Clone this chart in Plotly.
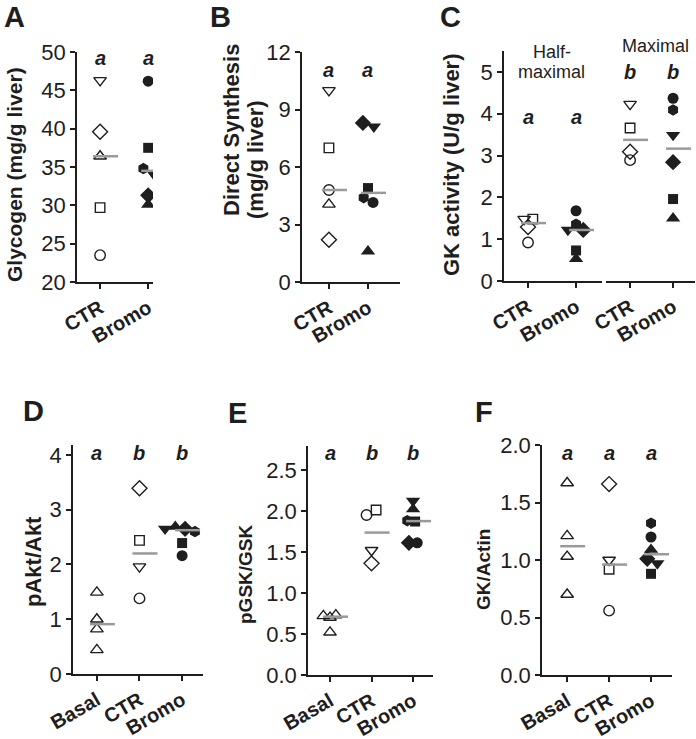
import numpy as np
import plotly.graph_objects as go

W, H = 696, 739

# ---------------- DATA ----------------
CATS_2 = ["CTR", "Bromo"]
CATS_3 = ["Basal", "CTR", "Bromo"]

# Panel A - Glycogen (mg/g liver)
A_CTR = [46.3, 39.6, 36.4, 29.7, 23.5]
A_CTR_SYM = ["triangle-down-open", "diamond-open", "triangle-up-open", "square-open", "circle-open"]
A_BROMO = [46.2, 37.5, 34.8, 34.2, 31.3, 30.1]
A_BROMO_SYM = ["circle", "square", "hexagon", "triangle-down", "diamond", "triangle-up"]

# Panel B - Direct Synthesis (mg/g liver)
B_CTR = [10.0, 7.0, 4.8, 4.05, 2.2]
B_CTR_SYM = ["triangle-down-open", "square-open", "circle-open", "triangle-up-open", "diamond-open"]
B_BROMO = [8.3, 8.1, 4.9, 4.4, 4.15, 1.6]
B_BROMO_SYM = ["diamond", "triangle-down", "square", "hexagon", "circle", "triangle-up"]

# Panel C - GK activity (U/g liver), half-maximal and maximal
C_HALF_CTR = [1.48, 1.48, 1.29, 0.92]
C_HALF_CTR_SYM = ["triangle-down-open", "square-open", "diamond-open", "circle-open"]
C_HALF_BROMO = [1.68, 1.36, 1.22, 1.22, 0.73, 0.53]
C_HALF_BROMO_SYM = ["circle", "hexagon", "triangle-down", "diamond", "square", "triangle-up"]
C_MAX_CTR = [4.23, 3.66, 3.09, 2.89]
C_MAX_CTR_SYM = ["triangle-down-open", "square-open", "diamond-open", "circle-open"]
C_MAX_BROMO = [4.37, 4.09, 3.49, 2.84, 1.96, 1.50]
C_MAX_BROMO_SYM = ["circle", "hexagon", "triangle-down", "diamond", "square", "triangle-up"]

# Panel D - pAkt/Akt
D_BASAL = [1.49, 1.0, 0.82, 0.44]
D_BASAL_SYM = ["triangle-up-open"] * 4
D_CTR = [3.39, 2.44, 1.96, 1.38]
D_CTR_SYM = ["diamond-open", "square-open", "triangle-down-open", "circle-open"]
D_BROMO = [2.65, 2.69, 2.65, 2.6, 2.39, 2.16]
D_BROMO_SYM = ["triangle-down", "triangle-up", "diamond", "hexagon", "square", "circle"]

# Panel E - pGSK/GSK
E_BASAL = [0.72, 0.70, 0.73, 0.52]
E_BASAL_SYM = ["triangle-up-open"] * 4
E_CTR = [1.95, 2.01, 1.52, 1.36]
E_CTR_SYM = ["circle-open", "square-open", "triangle-down-open", "diamond-open"]
E_BROMO = [2.12, 2.02, 1.88, 1.87, 1.61, 1.61]
E_BROMO_SYM = ["triangle-down", "triangle-up", "hexagon", "square", "diamond", "circle"]

# Panel F - GK/Actin
F_BASAL = [1.67, 1.21, 1.03, 0.70]
F_BASAL_SYM = ["triangle-up-open"] * 4
F_CTR = [1.66, 1.0, 0.92, 0.56]
F_CTR_SYM = ["diamond-open", "triangle-down-open", "square-open", "circle-open"]
F_BROMO = [1.32, 1.2, 1.09, 1.01, 0.97, 0.88]
F_BROMO_SYM = ["hexagon", "circle", "triangle-up", "diamond", "triangle-down", "square"]

# significance letters
A_SIG = ["a", "a"]
B_SIG = ["a", "a"]
C_SIG = ["a", "a", "b", "b"]
D_SIG = ["a", "b", "b"]
E_SIG = ["a", "b", "b"]
F_SIG = ["a", "a", "a"]

# ---------------- LAYOUT / STYLE (positions in px) ----------------
# horizontal jitter of overlapping points (category units)
A_BROMO_JIT = [0, 0, -0.1, 0.1, 0, 0]
B_BROMO_JIT = [-0.13, 0.15, 0, -0.11, 0.13, 0]
C_HALF_CTR_JIT = [-0.08, 0.1, 0, 0]
C_HALF_BROMO_JIT = [0, 0, -0.17, 0.15, 0, 0]
D_BROMO_JIT = [-0.4, -0.16, 0.07, 0.3, 0, 0]
E_BASAL_JIT = [-0.16, 0, 0.14, 0]
E_CTR_JIT = [-0.12, 0.11, 0, 0]
E_BROMO_JIT = [0, 0, -0.14, 0.05, -0.1, 0.1]
F_BROMO_JIT = [0, 0, 0, -0.09, 0.15, 0]

INK = "#1e1e1e"
MED_COLOR = "#9a9a9a"
FONT = "Liberation Sans, Arial, sans-serif"

SIZES_OPEN = {"triangle": 11, "circle": 10.5, "square": 9.5, "diamond": 11.5}
SIZES_FILL = {"triangle": 12.5, "circle": 11, "square": 10, "diamond": 12.5, "hexagon": 11.5}


def msize(sym):
    table = SIZES_OPEN if sym.endswith("-open") else SIZES_FILL
    for k, v in table.items():
        if sym.startswith(k):
            return v
    return 10


fig = go.Figure()
annotations = []


def xd(px):
    return px / W


def yd(px):
    return 1 - px / H


def setup_axes(n, xpx, ypx, xr, yr, ticktext, dtick, show_y=True, tickformat=None):
    sx = "" if n == 1 else str(n)
    xa = dict(
        domain=[xd(xpx[0]), xd(xpx[1])], range=xr, anchor="y" + sx, automargin=False,
        tickmode="array",
        tickvals=list(range(len(ticktext))), ticktext=["<b>%s</b>" % t for t in ticktext],
        tickangle=-30, showline=True, linecolor=INK, linewidth=1.5,
        ticks="outside", ticklen=5, tickwidth=1.5, tickcolor=INK,
        tickfont=dict(family=FONT, size=20, color=INK),
        showgrid=False, zeroline=False, fixedrange=True,
    )
    ya = dict(
        domain=[yd(ypx[1]), yd(ypx[0])], range=yr, anchor="x" + sx, automargin=False,
        showgrid=False, zeroline=False, fixedrange=True,
    )
    if show_y:
        ya.update(showline=True, linecolor=INK, linewidth=1.5, ticks="outside",
                  ticklen=5, tickwidth=1.5, tickcolor=INK, dtick=dtick, tick0=0,
                  tickmode="linear",
                  tickfont=dict(family=FONT, size=22, color=INK))
        if tickformat:
            ya["tickformat"] = tickformat
    else:
        ya.update(showline=False, ticks="", showticklabels=False)
    fig.layout["xaxis" + sx] = xa
    fig.layout["yaxis" + sx] = ya
    return sx, (xpx[1] - xpx[0]) / (xr[1] - xr[0])


def add_group(sx, cat, values, symbols, jitter, ppu):
    jit = jitter if jitter is not None else [0] * len(values)
    for v, s, j in zip(values, symbols, jit):
        filled = not s.endswith("-open")
        fig.add_trace(go.Scatter(
            x=[cat + j], y=[v], mode="markers", xaxis="x" + sx, yaxis="y" + sx,
            showlegend=False, hoverinfo="skip",
            marker=dict(symbol=s, size=msize(s), color=INK,
                        line=dict(color=INK, width=0 if filled else 1.4)),
        ))
    med = float(np.median(values))
    lo, hi = -7 / ppu, 18 / ppu
    fig.add_trace(go.Scatter(
        x=[cat + lo, cat + hi], y=[med, med], mode="lines", xaxis="x" + sx, yaxis="y" + sx,
        showlegend=False, hoverinfo="skip", line=dict(color=MED_COLOR, width=2.5),
    ))


def add_sig(sx, cats, letters, y):
    for c, l in zip(cats, letters):
        annotations.append(dict(
            x=c, y=y, xref="x" + sx, yref="y" + sx, text="<b><i>%s</i></b>" % l,
            showarrow=False, font=dict(family=FONT, size=20, color=INK),
        ))


# Panel A
sx, ppu = setup_axes(1, (77, 153), (52, 282), [-0.48, 1.1], [20, 50], CATS_2, 5)
add_group(sx, 0, A_CTR, A_CTR_SYM, None, ppu)
add_group(sx, 1, A_BROMO, A_BROMO_SYM, A_BROMO_JIT, ppu)
add_sig(sx, [0, 1], A_SIG, 49.2)

# Panel B
sx, ppu = setup_axes(2, (302, 400), (52, 282), [-0.69, 1.82], [0, 12], CATS_2, 3)
add_group(sx, 0, B_CTR, B_CTR_SYM, None, ppu)
add_group(sx, 1, B_BROMO, B_BROMO_SYM, B_BROMO_JIT, ppu)
add_sig(sx, [0, 1], B_SIG, 11.06)

# Panel C (two parts)
sx, ppu = setup_axes(3, (504, 602), (51, 281), [-0.5, 1.54], [0, 5.5], CATS_2, 1)
add_group(sx, 0, C_HALF_CTR, C_HALF_CTR_SYM, C_HALF_CTR_JIT, ppu)
add_group(sx, 1, C_HALF_BROMO, C_HALF_BROMO_SYM, C_HALF_BROMO_JIT, ppu)
add_sig(sx, [0, 1], C_SIG[:2], 3.92)
sx, ppu = setup_axes(4, (606, 695), (51, 281), [-0.56, 1.51], [0, 5.5], CATS_2, 1, show_y=False)
add_group(sx, 0, C_MAX_CTR, C_MAX_CTR_SYM, None, ppu)
add_group(sx, 1, C_MAX_BROMO, C_MAX_BROMO_SYM, None, ppu)
add_sig(sx, [0, 1], C_SIG[2:], 5.0)

# Panel D
sx, ppu = setup_axes(5, (73, 203), (445, 674), [-0.56, 2.49], [0, 4.18], CATS_3, 1)
add_group(sx, 0, D_BASAL, D_BASAL_SYM, None, ppu)
add_group(sx, 1, D_CTR, D_CTR_SYM, None, ppu)
add_group(sx, 2, D_BROMO, D_BROMO_SYM, D_BROMO_JIT, ppu)
add_sig(sx, [0, 1, 2], D_SIG, 4.04)

# Panel E
sx, ppu = setup_axes(6, (308, 433), (446, 675), [-0.53, 2.48], [0, 2.79], CATS_3, 0.5, tickformat=".1f")
add_group(sx, 0, E_BASAL, E_BASAL_SYM, E_BASAL_JIT, ppu)
add_group(sx, 1, E_CTR, E_CTR_SYM, E_CTR_JIT, ppu)
add_group(sx, 2, E_BROMO, E_BROMO_SYM, E_BROMO_JIT, ppu)
add_sig(sx, [0, 1, 2], E_SIG, 2.71)

# Panel F
sx, ppu = setup_axes(7, (542, 672), (445, 675), [-0.6, 2.5], [0, 2.0], CATS_3, 0.5, tickformat=".1f")
add_group(sx, 0, F_BASAL, F_BASAL_SYM, None, ppu)
add_group(sx, 1, F_CTR, F_CTR_SYM, None, ppu)
add_group(sx, 2, F_BROMO, F_BROMO_SYM, F_BROMO_JIT, ppu)
add_sig(sx, [0, 1, 2], F_SIG, 1.93)


def paper_text(text, x, y, size, bold=False, angle=0, yanchor="middle"):
    annotations.append(dict(
        x=xd(x), y=yd(y), xref="paper", yref="paper", xanchor="center", yanchor=yanchor,
        text=("<b>%s</b>" % text) if bold else text, textangle=angle, showarrow=False,
        font=dict(family=FONT, size=size, color=INK), borderpad=0,
    ))


# panel letters
for lab, x in [("A", 14), ("B", 220), ("C", 450)]:
    paper_text(lab, x, 0, 29, bold=True, yanchor="top")
for lab, x, y in [("D", 33, 411), ("E", 237, 413), ("F", 484, 412)]:
    paper_text(lab, x, y, 29, bold=True)

# y-axis titles
paper_text("Glycogen (mg/g liver)", 14, 175, 21, bold=True, angle=-90)
paper_text("Direct Synthesis", 231, 130, 22, bold=True, angle=-90)
paper_text("(mg/g liver)", 256, 160, 22, bold=True, angle=-90)
paper_text("GK activity (U/g liver)", 451, 165, 22, bold=True, angle=-90)
paper_text("pAkt/Akt", 33, 562, 22, bold=True, angle=-90)
paper_text("pGSK/GSK", 245, 574, 19, bold=True, angle=-90)
paper_text("GK/Actin", 483, 570, 19, bold=True, angle=-90)

# panel C group headers
paper_text("Half-", 552, 52, 18)
paper_text("maximal", 551, 72, 18)
paper_text("Maximal", 655, 46, 18)

fig.update_layout(
    template="none",
    width=W, height=H, margin=dict(l=0, r=0, t=0, b=0, autoexpand=False),
    paper_bgcolor="white", plot_bgcolor="white",
    annotations=annotations, showlegend=False,
    font=dict(family=FONT, color=INK),
)

fig.write_html("out.html", config={"displayModeBar": False},
               post_script="document.body.style.margin='0';")
